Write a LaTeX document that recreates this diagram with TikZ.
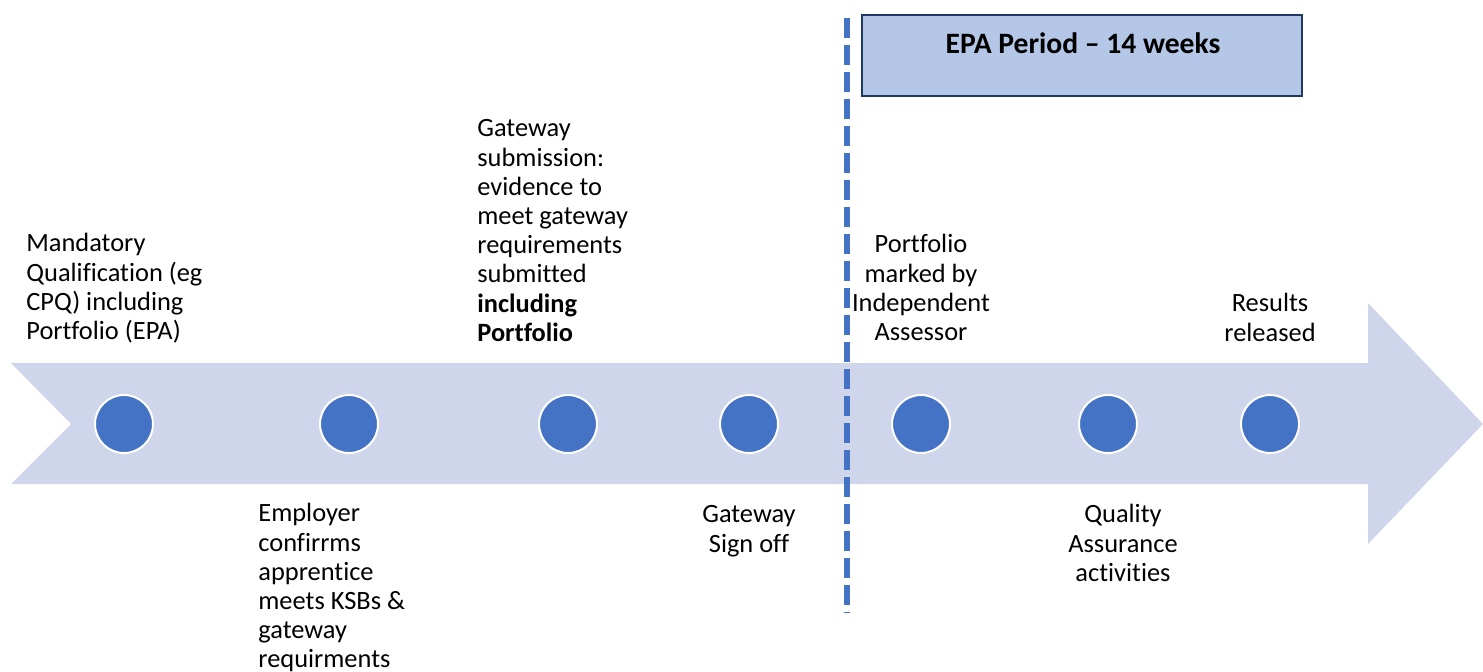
\documentclass[tikz,border=0pt]{standalone}
\usepackage{fontspec}
\setmainfont{Carlito}[Ligatures=NoCommon]
\usepackage{tikz}
\usetikzlibrary{positioning}
\usepackage{xcolor}
\definecolor{epaband}{HTML}{CFD5EA}
\definecolor{epadot}{HTML}{4472C4}
\definecolor{epabox}{HTML}{B4C7E7}
\definecolor{epanavy}{HTML}{1F3864}

\begin{document}
\begin{tikzpicture}[
    x=0.5pt, y=-0.5pt,
    milestone/.style={
        circle,
        minimum size=29pt,
        inner sep=0pt,
        fill=epadot,
        draw=white,
        line width=1pt
    },
    label/.style={
        inner sep=0pt,
        font=\fontsize{13.2}{14.6}\selectfont,
        text=black
    },
    leftlabel/.style={
        label,
        anchor=north west,
        align=left
    },
    midlabel/.style={
        label,
        anchor=north,
        align=center
    },
    period/.style={
        rectangle,
        draw=epanavy,
        line width=1pt,
        fill=epabox
    },
    divider/.style={
        draw=epadot,
        line width=3pt,
        dash pattern=on 10pt off 3.5pt
    }
]

% Canvas
\useasboundingbox (0,0) rectangle (1483,671);

% Timeline arrow
\fill[epaband] (11,363) -- (1368,363) -- (1368,303) -- (1483,424)
    -- (1368,544) -- (1368,484) -- (11,484) -- (71,424) -- cycle;

% EPA period box
\draw[period] (862,15) rectangle (1302,96);
\node[label, font=\fontsize{14.8}{16}\selectfont\bfseries, anchor=base] (epa) at (1083,53) {EPA Period -- 14 weeks};

% Milestones
\node[milestone] (dotqual) at (124,424) {};
\node[milestone] (dotemp) at (349,424) {};
\node[milestone] (dotsub) at (568,424) {};
\node[milestone] (dotsign) at (749,424) {};
\node[milestone] (dotmark) at (921,424) {};
\node[milestone] (dotqa) at (1108,424) {};
\node[milestone] (dotres) at (1270,424) {};

% Gateway divider
\coordinate (divtop) at (847,18);
\coordinate (divbot) at (847,613);
\draw[divider] (divtop) -- (divbot);

% Labels above the arrow
\node[leftlabel] (qual) at (26,231) {\strut Mandatory\\Qualification (eg\\CPQ) including\\Portfolio (EPA)};
\node[leftlabel] (sub) at (477,116) {\strut Gateway\\submission:\\evidence to\\meet gateway\\requirements\\submitted\\\textbf{including}\\\textbf{Portfolio}};
\node[midlabel] (mark) at (921,232) {\strut Portfolio\\marked by\\Independent\\Assessor};
\node[midlabel] (res) at (1270,291) {\strut Results\\released};

% Labels below the arrow
\node[leftlabel] (emp) at (258,501) {\strut Employer\\confirrms\\apprentice\\meets KSBs \&\\gateway\\requirments};
\node[midlabel] (sign) at (749,502) {\strut Gateway\\Sign off};
\node[midlabel] (qa) at (1123,502) {\strut Quality\\Assurance\\activities};

\end{tikzpicture}
\end{document}
